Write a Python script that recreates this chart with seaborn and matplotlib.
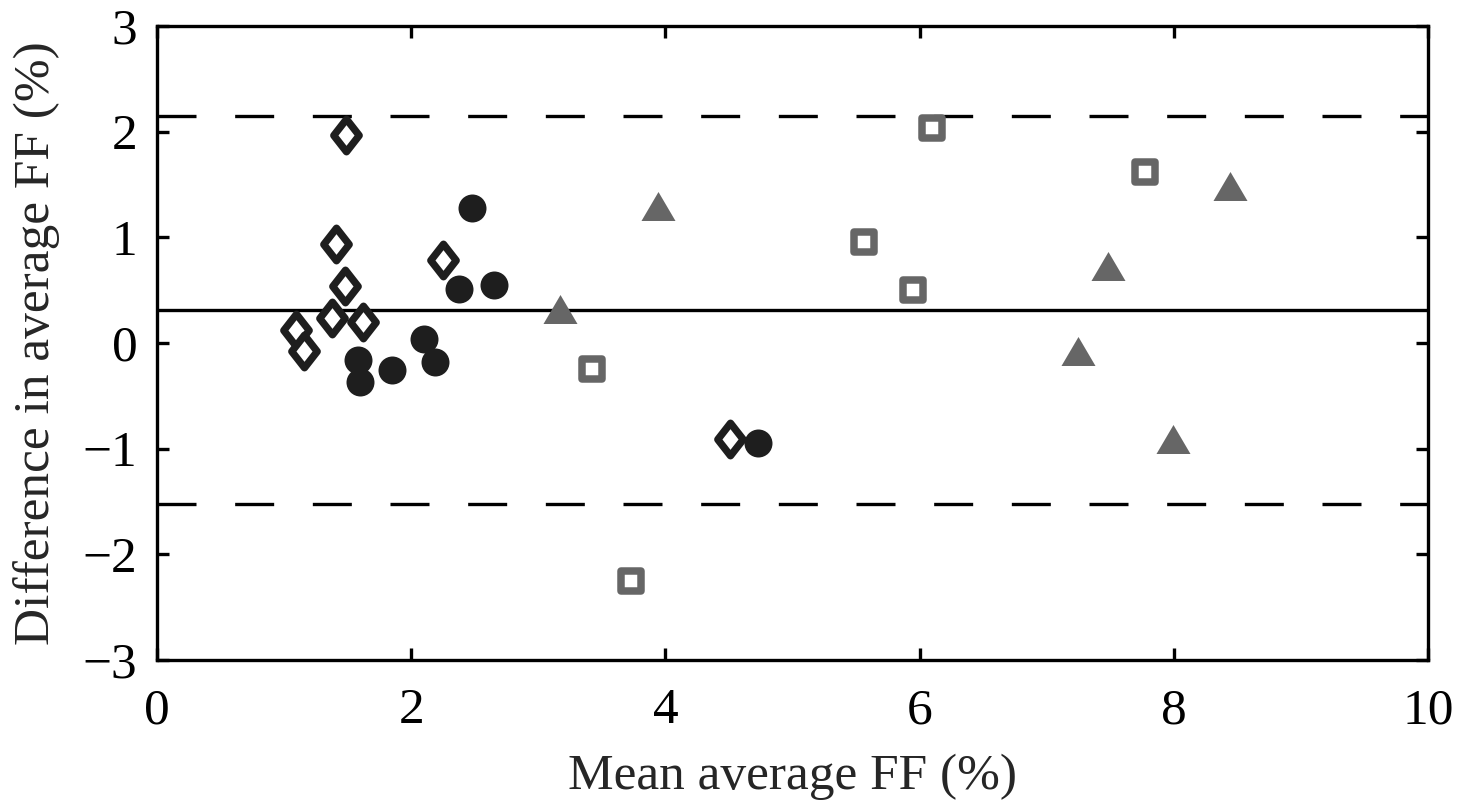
import numpy as np
import matplotlib
matplotlib.use("Agg")
import matplotlib.pyplot as plt
from matplotlib.path import Path
from matplotlib.markers import MarkerStyle
import seaborn as sns

# Bland-Altman style data
diamond_x = [1.49, 1.41, 1.48, 2.25, 1.38, 1.62, 1.09, 1.16, 4.51]
diamond_y = [1.97, 0.94, 0.54, 0.79, 0.24, 0.20, 0.12, -0.08, -0.91]

circle_x = [2.48, 2.38, 2.65, 2.10, 2.19, 1.58, 1.60, 1.85, 4.73]
circle_y = [1.28, 0.51, 0.55, 0.04, -0.18, -0.16, -0.37, -0.26, -0.95]

triangle_x = [3.94, 3.17, 8.44, 7.48, 7.25, 7.99]
triangle_y = [1.30, 0.32, 1.49, 0.73, -0.08, -0.91]

square_x = [6.10, 7.77, 5.56, 5.95, 3.42, 3.73]
square_y = [2.03, 1.62, 0.96, 0.50, -0.25, -2.25]

mean_diff = 0.31
upper_loa = 2.15
lower_loa = -1.52

x_ticks = [0, 2, 4, 6, 8, 10]
y_ticks = [-3, -2, -1, 0, 1, 2, 3]

# Style
sns.set_theme(style="ticks")
plt.rcParams['font.family'] = ['Liberation Serif', 'DejaVu Serif']

dark = '#1e1e1e'
gray = '#666666'

diamond = MarkerStyle(Path([(0, 0.5), (0.39, 0), (0, -0.5), (-0.39, 0), (0, 0.5)], closed=True),
                      joinstyle='miter')
triangle = MarkerStyle(Path([(-0.5, -0.426), (0.5, -0.426), (0, 0.426), (-0.5, -0.426)], closed=True),
                       joinstyle='miter')
square = MarkerStyle('s', joinstyle='miter')

fig, ax = plt.subplots(figsize=(14.71, 8.0), dpi=100)
fig.subplots_adjust(left=0.1067, right=0.9708, top=0.9675, bottom=0.175)

lw = 2.4
ax.axhline(mean_diff, color='black', linewidth=lw, zorder=1)
ax.axhline(upper_loa, color='black', linewidth=lw, dashes=(11.7, 11.6), zorder=1)
ax.axhline(lower_loa, color='black', linewidth=lw, dashes=(11.7, 11.6), zorder=1)

sns.scatterplot(x=triangle_x, y=triangle_y, marker=triangle, s=600, color=gray,
                edgecolor=gray, linewidth=0, ax=ax, zorder=3)
sns.scatterplot(x=square_x, y=square_y, marker=square, s=219, color='white',
                edgecolor=gray, linewidth=5.4, ax=ax, zorder=3)
sns.scatterplot(x=circle_x, y=circle_y, marker='o', s=406, color=dark,
                edgecolor=dark, linewidth=0, ax=ax, zorder=3)
sns.scatterplot(x=diamond_x, y=diamond_y, marker=diamond, s=550, color='white',
                edgecolor=dark, linewidth=5.3, ax=ax, zorder=3)

ax.set_xlim(0, 10)
ax.set_ylim(-3, 3)
ax.set_xticks(x_ticks)
ax.set_yticks(y_ticks)

for side in ['left', 'right', 'top', 'bottom']:
    ax.spines[side].set_visible(True)
    ax.spines[side].set_linewidth(lw)
    ax.spines[side].set_color('black')

ax.tick_params(axis='both', direction='in', length=12 * 0.72, width=lw,
               colors='black', labelsize=37, top=True, right=True)
ax.tick_params(axis='x', pad=20)
ax.tick_params(axis='y', pad=14)

ax.set_xlabel('Mean average FF (%)', fontsize=37, labelpad=14)
ax.set_ylabel('Difference in average FF (%)', fontsize=37)
ax.yaxis.set_label_coords(-0.0763, 0.5)

ax.grid(False)
fig.savefig('out.png', dpi=100)
